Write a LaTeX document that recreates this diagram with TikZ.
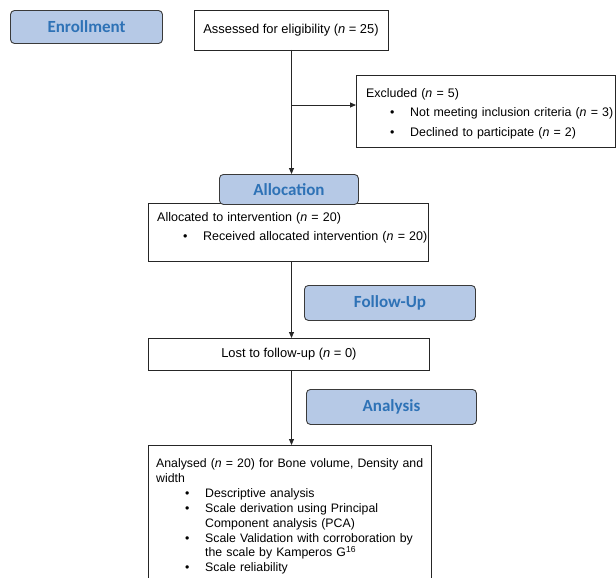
\documentclass[tikz,border=0pt]{standalone}
\usepackage{fontspec}
\setmainfont{Liberation Sans}
\newfontfamily\lblfont{Carlito}
\usetikzlibrary{arrows.meta}
\definecolor{lblfill}{HTML}{B6C9E6}
\definecolor{lbltext}{HTML}{2E72B6}
\definecolor{lbldraw}{HTML}{3A3A3A}
\tikzset{
  stagebox/.style={draw=lbldraw, line width=0.9pt, fill=lblfill, rounded corners=4pt,
    inner sep=0pt, font=\lblfont\bfseries\fontsize{17}{19}\selectfont, text=lbltext},
  infobox/.style={draw=black!85, line width=0.8pt, fill=white, inner sep=0pt},
  conn/.style={draw=black!85, line width=0.8pt},
  arr/.style={conn, -{Triangle[length=6pt,width=5pt]}},
  txt/.style={font=\fontsize{12.9}{15}\selectfont, align=left, inner sep=0pt, anchor=base west, text width=400pt},
}
\newcommand{\bul}[1]{\makebox[20pt][l]{\textbullet}#1}
\begin{document}
\begin{tikzpicture}[x=1pt,y=-1pt]
\useasboundingbox (0,0) rectangle (616,578);
% stage labels
\node[stagebox, minimum width=152pt, minimum height=33pt] (enr) at (86.5,27) {Enrollment};
% boxes
\node[infobox, minimum width=194pt, minimum height=40pt] (ass) at (291,30) {};
\node[font=\fontsize{12.9}{15}\selectfont, inner sep=0pt] (asst) at (ass.center) {Assessed for eligibility (\textit{n} = 25)};
\node[infobox, minimum width=259pt, minimum height=72pt, anchor=north west] (exc) at (356,75) {};
\node[txt, font=\fontsize{12.4}{19.5}\selectfont] (exct) at (366,97.5) {Excluded (\textit{n} = 5)\\
\hspace*{24pt}\bul{Not meeting inclusion criteria (\textit{n} = 3)}\\
\hspace*{24pt}\bul{Declined to participate (\textit{n} = 2)}};
\node[infobox, minimum width=280pt, minimum height=58pt, anchor=north west] (altd) at (148,203) {};
\node[stagebox, minimum width=139pt, minimum height=30pt, anchor=north west] (alloc) at (219,174) {Allocation};
\node[txt, font=\fontsize{12.5}{19}\selectfont] (altdt) at (157,221.5) {Allocated to intervention (\textit{n} = 20)\\
\hspace*{26pt}\bul{Received allocated intervention (\textit{n} = 20)}};
\node[stagebox, minimum width=171pt, minimum height=35pt, anchor=north west] (fu) at (304,285) {Follow-Up};
\node[infobox, minimum width=281pt, minimum height=32pt, anchor=north west] (lost) at (148,338) {};
\node[font=\fontsize{12.9}{15}\selectfont, inner sep=0pt] (lostt) at (lost.center) {Lost to follow-up (\textit{n} = 0)};
\node[stagebox, minimum width=170pt, minimum height=35pt, anchor=north west] (ana) at (306,389) {Analysis};
\node[infobox, minimum width=283pt, minimum height=150pt, anchor=north west] (anl) at (148,445) {};
\node[txt, font=\fontsize{12.3}{14.9}\selectfont] (anlt) at (156,467.5) {Analysed (\textit{n} = 20) for Bone volume, Density and\\
width\\
\hspace*{29pt}\bul{Descriptive analysis}\\
\hspace*{29pt}\bul{Scale derivation using Principal}\\
\hspace*{49pt}Component analysis (PCA)\\
\hspace*{29pt}\bul{Scale Validation with corroboration by}\\
\hspace*{49pt}the scale by Kamperos G\textsuperscript{16}\\
\hspace*{29pt}\bul{Scale reliability}};
% connectors
\coordinate (top) at (291.5,50);
\coordinate (branch) at (291.5,105);
\draw[arr] (top) -- (top |- alloc.north);
\draw[arr] (branch) -- (branch -| exc.west);
\coordinate (a2) at (291.5,261);
\draw[arr] (a2) -- (a2 |- lost.north);
\coordinate (a3) at (291.5,370);
\draw[arr] (a3) -- (a3 |- anl.north);
\end{tikzpicture}
\end{document}
